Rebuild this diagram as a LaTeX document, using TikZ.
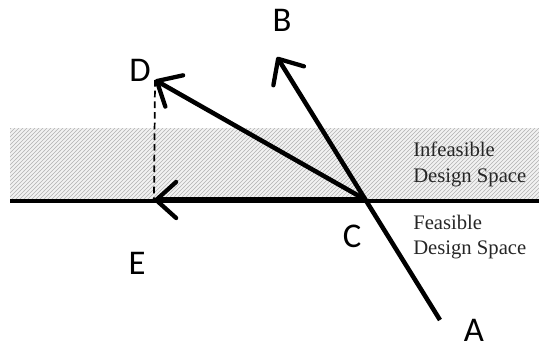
\documentclass[tikz,border=0pt]{standalone}
\usepackage{fontspec}
\setmainfont{Liberation Serif}
\newfontfamily\letterfont{Carlito}
\usetikzlibrary{arrows.meta, patterns}
\tikzset{
    pt/.style={font=\letterfont\fontsize{26}{28}\selectfont, inner sep=0pt},
    region/.style={font=\fontsize{15.5}{19}\selectfont, align=left, inner sep=0pt, text=black!85},
    vec/.style={-{Straight Barb[length=15pt, width=27pt, line width=3.2pt, round]}, line width=3.4pt},
    hatch/.style={fill=gray!10, postaction={pattern=north east lines, pattern color=gray!60}}
}

\begin{document}
\begin{tikzpicture}[x=0.75pt, y=-0.75pt]
\useasboundingbox (0,0) rectangle (539,351);

% Infeasible band and boundary
\path[hatch] (10,128) rectangle (539,200);
\draw[line width=2.4pt] (10,201) -- (539,201);

% Points
\coordinate (a) at (440,320);
\coordinate (b) at (277,57);
\coordinate (c) at (366,200);
\coordinate (d) at (155,80);
\coordinate (e) at (154,200);

% Labels
\node[pt] (la) at (474,330) {A};
\node[pt] (lb) at (282,20) {B};
\node[pt] (lc) at (352,236) {C};
\node[pt] (ld) at (140,70) {D};
\node[pt] (le) at (137,263) {E};

\node[region, anchor=north west] (inf) at (413,142) {Infeasible\\Design Space};
\node[region, anchor=north west] (fea) at (413,215) {Feasible\\Design Space};

% Vectors
\draw[dash pattern=on 5pt off 3pt, line width=1.3pt] (d) -- (e);
\draw[vec] (a) -- (b);
\draw[vec] (c) -- (d);
\draw[vec, line width=4.4pt] (c) -- (e);
\end{tikzpicture}
\end{document}
